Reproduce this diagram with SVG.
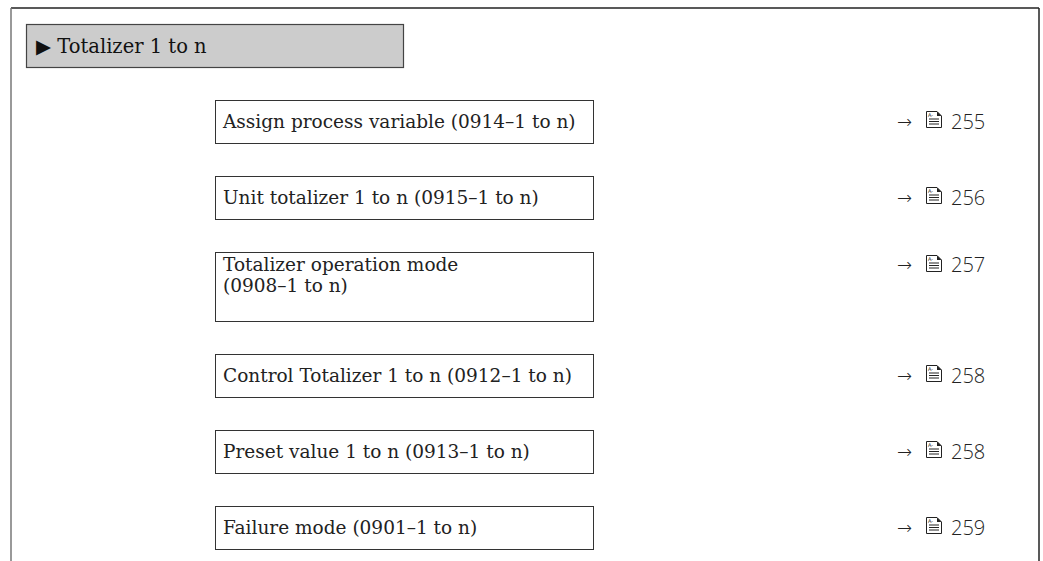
<svg xmlns="http://www.w3.org/2000/svg" width="1043" height="561" viewBox="0 0 1043 561">
<style>
.node{fill:#fff;stroke:#333;stroke-width:1}
.lbl{font-family:"DejaVu Serif","Liberation Serif",serif;font-size:18.5px;fill:#222}
.ref{font-family:"Open Sans","DejaVu Sans",sans-serif;font-size:18px;font-weight:300;fill:#222}
.num{font-family:"Open Sans","DejaVu Sans",sans-serif;font-size:20px;font-weight:300;fill:#222}
</style>
<defs>
<g id="doc">
<path d="M0.5,0.5 H11 L15.5,5 V16.5 H0.5 Z" fill="#fff" stroke="#222" stroke-width="1"/>
<path d="M11,0.5 L15.5,5 H11 Z" fill="#222"/>
<text x="2" y="5.5" font-family="DejaVu Sans,sans-serif" font-size="5" fill="#222">A-</text>
<path d="M3,8 H13 M3,10.5 H13 M3,13 H13" stroke="#222" stroke-width="1"/>
</g>
</defs>
<g id="frame">
<line x1="11" y1="8" x2="1039" y2="8" stroke="#222" stroke-width="1.5"/>
<line x1="11" y1="8" x2="11" y2="561" stroke="#777" stroke-width="1.5"/>
<line x1="1039" y1="8" x2="1039" y2="561" stroke="#222" stroke-width="1.5"/>
</g>
<g id="header">
<rect x="26.5" y="24.5" width="377" height="43" fill="#cccccc" stroke="#444" stroke-width="1.2"/>
<text x="36" y="53" font-family="DejaVu Serif,Liberation Serif,serif" font-size="19.5px" fill="#111">▶ Totalizer 1 to n</text>
</g>
<g id="connectors"></g>
<g id="n1">
<rect class="node" x="215.5" y="100.5" width="378" height="43"/>
<text class="lbl" x="223" y="128">Assign process variable (0914–1 to n)</text>
<text class="ref" x="897" y="128">→</text><use href="#doc" x="926" y="111"/><text class="num" x="951" y="129">255</text>
</g>
<g id="n2">
<rect class="node" x="215.5" y="176.5" width="378" height="43"/>
<text class="lbl" x="223" y="204">Unit totalizer 1 to n (0915–1 to n)</text>
<text class="ref" x="897" y="204">→</text><use href="#doc" x="926" y="187"/><text class="num" x="951" y="205">256</text>
</g>
<g id="n3">
<rect class="node" x="215.5" y="252.5" width="378" height="69"/>
<text class="lbl" x="223" y="271">Totalizer operation mode</text>
<text class="lbl" x="223" y="292">(0908–1 to n)</text>
<text class="ref" x="897" y="271">→</text><use href="#doc" x="926" y="255"/><text class="num" x="951" y="272">257</text>
</g>
<g id="n4">
<rect class="node" x="215.5" y="354.5" width="378" height="43"/>
<text class="lbl" x="223" y="382">Control Totalizer 1 to n (0912–1 to n)</text>
<text class="ref" x="897" y="382">→</text><use href="#doc" x="926" y="365"/><text class="num" x="951" y="383">258</text>
</g>
<g id="n5">
<rect class="node" x="215.5" y="430.5" width="378" height="43"/>
<text class="lbl" x="223" y="458">Preset value 1 to n (0913–1 to n)</text>
<text class="ref" x="897" y="458">→</text><use href="#doc" x="926" y="441"/><text class="num" x="951" y="459">258</text>
</g>
<g id="n6">
<rect class="node" x="215.5" y="506.5" width="378" height="43"/>
<text class="lbl" x="223" y="534">Failure mode (0901–1 to n)</text>
<text class="ref" x="897" y="534">→</text><use href="#doc" x="926" y="517"/><text class="num" x="951" y="535">259</text>
</g>
</svg>
